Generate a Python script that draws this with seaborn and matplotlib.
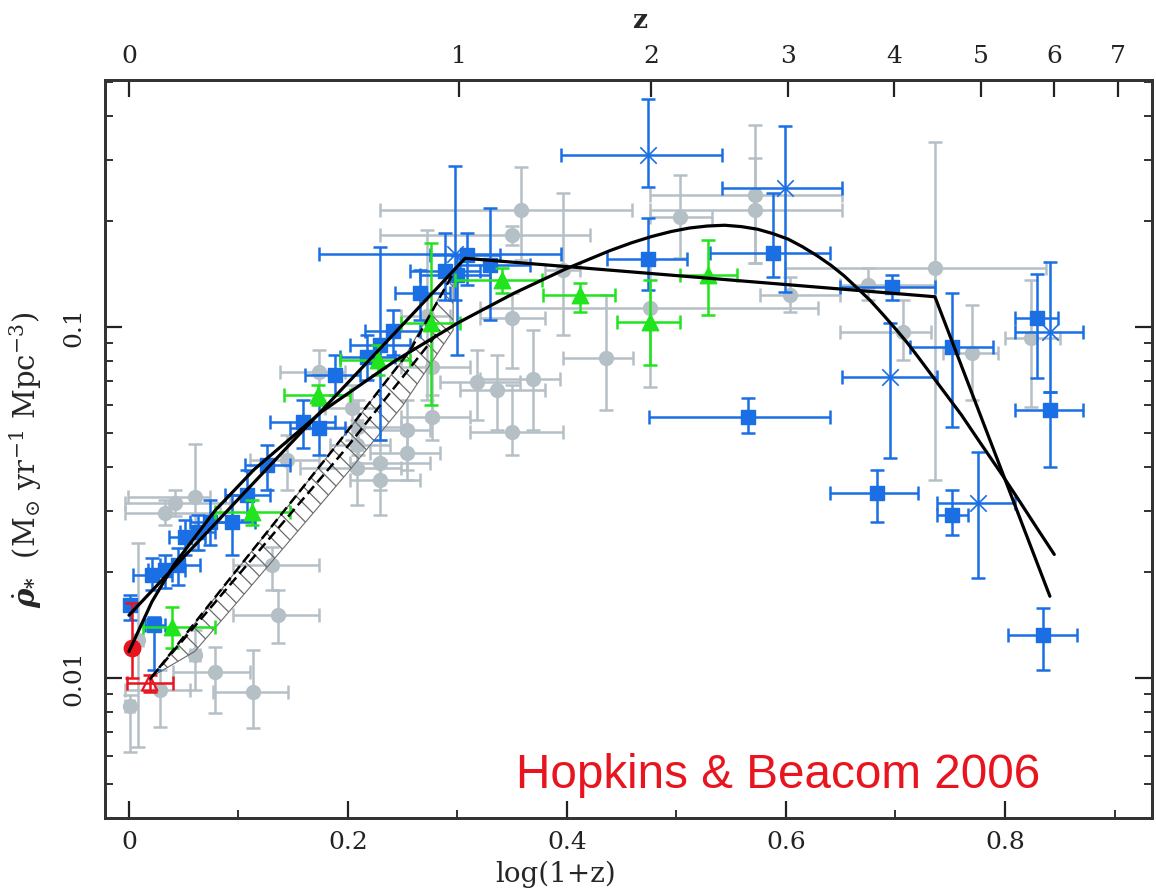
import numpy as np
import pandas as pd
import matplotlib
matplotlib.use("Agg")
import matplotlib.pyplot as plt
from matplotlib.ticker import (LogLocator, NullFormatter, FixedLocator,
                               MultipleLocator, FuncFormatter)
import seaborn as sns

sns.set_theme(style="white")
plt.rcParams['font.family'] = ['DejaVu Serif']
plt.rcParams['mathtext.fontset'] = 'dejavuserif'
plt.rcParams['hatch.linewidth'] = 0.9

# ---------------- data: x = log10(1+z), y = log10(rho_dot) ----------------
# grey compilation (circles)
gray_x    = [0.001, 0.008, 0.028, 0.060, 0.079, 0.113, 0.060, 0.042, 0.033, 0.131,
             0.136, 0.144, 0.174, 0.204, 0.209, 0.208, 0.208, 0.229, 0.229, 0.254,
             0.254, 0.277, 0.277, 0.318, 0.336, 0.272, 0.358, 0.350, 0.350, 0.369,
             0.350, 0.436, 0.476, 0.396, 0.503, 0.572, 0.572, 0.604, 0.675, 0.736,
             0.707, 0.770, 0.824]
gray_xlo  = [-0.004, 0.004, -0.004, 0.056, 0.040, 0.077, -0.001, -0.004, -0.004, 0.095,
             0.095, 0.111, 0.138, 0.179, 0.174, 0.184, 0.156, 0.202, 0.202, 0.229,
             0.220, 0.248, 0.248, 0.284, 0.302, 0.248, 0.229, 0.229, 0.321, 0.321,
             0.311, 0.396, 0.321, 0.380, 0.476, 0.476, 0.476, 0.576, 0.649, 0.599,
             0.649, 0.743, 0.800]
gray_xhi  = [0.005, 0.013, 0.056, 0.065, 0.111, 0.145, 0.074, 0.092, 0.083, 0.174,
             0.174, 0.174, 0.197, 0.229, 0.248, 0.238, 0.248, 0.275, 0.266, 0.275,
             0.284, 0.311, 0.311, 0.357, 0.380, 0.293, 0.459, 0.421, 0.380, 0.394,
             0.396, 0.460, 0.629, 0.412, 0.532, 0.651, 0.651, 0.649, 0.736, 0.837,
             0.732, 0.794, 0.850]
gray_ly   = [-2.080, -1.892, -2.034, -1.934, -1.983, -2.040, -1.484, -1.501, -1.530, -1.678,
             -1.821, -1.379, -1.128, -1.231, -1.285, -1.336, -1.402, -1.387, -1.436, -1.293,
             -1.359, -1.114, -1.256, -1.157, -1.179, -0.969, -0.667, -0.738, -0.974, -1.148,
             -1.299, -1.088, -0.946, -0.838, -0.687, -0.624, -0.667, -0.909, -0.880, -0.832,
             -1.014, -1.074, -1.031]
gray_lylo = [-2.211, -2.197, -2.140, -2.034, -2.100, -2.142, -1.635, -1.538, -1.564, -1.749,
             -1.900, -1.464, -1.208, -1.322, -1.365, -1.407, -1.507, -1.464, -1.536, -1.407,
             -1.436, -1.265, -1.322, -1.265, -1.293, -1.208, -0.809, -0.766, -1.117, -1.293,
             -1.365, -1.236, -1.171, -1.023, -0.803, -0.818, -0.818, -0.957, -0.923, -1.436,
             -1.094, -1.208, -1.228]
gray_lyhi = [-2.048, -1.615, -1.977, -1.863, -1.912, -1.920, -1.333, -1.464, -1.493, -1.627,
             -1.749, -1.308, -1.066, -1.165, -1.208, -1.265, -1.350, -1.322, -1.379, -1.208,
             -1.293, -1.009, -1.194, -1.066, -1.080, -0.724, -0.544, -0.712, -0.903, -1.009,
             -1.165, -0.909, -0.809, -0.618, -0.567, -0.425, -0.519, -0.858, -0.832, -0.473,
             -0.923, -0.937, -0.866]

# blue squares
blue_x    = [0.001, 0.021, 0.033, 0.045, 0.023, 0.051, 0.063, 0.074, 0.094, 0.108,
             0.126, 0.159, 0.174, 0.188, 0.217, 0.241, 0.229, 0.266, 0.289, 0.300,
             0.309, 0.330, 0.474, 0.588, 0.565, 0.697, 0.752, 0.683, 0.752, 0.829,
             0.841, 0.835]
blue_xlo  = [-0.002, 0.004, 0.017, 0.028, 0.015, 0.037, 0.047, 0.056, 0.074, 0.088,
             0.106, 0.129, 0.147, 0.161, 0.193, 0.216, 0.202, 0.243, 0.257, 0.266,
             0.275, 0.302, 0.437, 0.531, 0.475, 0.649, 0.713, 0.640, 0.738, 0.809,
             0.809, 0.803]
blue_xhi  = [0.006, 0.039, 0.051, 0.065, 0.033, 0.069, 0.079, 0.097, 0.115, 0.129,
             0.147, 0.188, 0.197, 0.211, 0.243, 0.266, 0.257, 0.293, 0.321, 0.330,
             0.339, 0.366, 0.510, 0.640, 0.640, 0.736, 0.789, 0.721, 0.766, 0.848,
             0.871, 0.866]
blue_ly   = [-1.792, -1.707, -1.692, -1.678, -1.849, -1.598, -1.584, -1.556, -1.556, -1.479,
             -1.393, -1.271, -1.288, -1.137, -1.085, -1.011, -1.051, -0.903, -0.840, -0.852,
             -0.795, -0.823, -0.806, -0.789, -1.256, -0.886, -1.057, -1.473, -1.536, -0.974,
             -1.236, -1.877]
blue_lylo = [-1.835, -1.749, -1.744, -1.735, -1.977, -1.650, -1.635, -1.621, -1.650, -1.550,
             -1.464, -1.345, -1.365, -1.194, -1.151, -1.080, -1.322, -0.980, -0.923, -1.080,
             -0.880, -0.980, -0.895, -0.858, -1.302, -0.923, -1.285, -1.556, -1.593, -1.145,
             -1.399, -1.977]
blue_lyhi = [-1.764, -1.658, -1.650, -1.630, -1.826, -1.550, -1.536, -1.493, -1.479, -1.407,
             -1.336, -1.208, -1.217, -1.080, -1.023, -0.952, -0.772, -0.838, -0.732, -0.795,
             -0.732, -0.661, -0.689, -0.618, -1.202, -0.852, -0.903, -1.407, -1.464, -0.849,
             -1.185, -1.801]

# blue crosses
cross_x    = [0.298, 0.474, 0.599, 0.695, 0.775, 0.841]
cross_xlo  = [0.174, 0.395, 0.542, 0.651, 0.738, 0.809]
cross_xhi  = [0.395, 0.542, 0.651, 0.738, 0.809, 0.871]
cross_ly   = [-0.792, -0.510, -0.604, -1.142, -1.501, -1.014]
cross_lylo = [-0.923, -0.600, -0.900, -1.373, -1.715, -1.185]
cross_lyhi = [-0.541, -0.350, -0.427, -0.989, -1.356, -0.815]

# green triangles
green_x    = [0.039, 0.112, 0.173, 0.227, 0.276, 0.341, 0.412, 0.476, 0.529]
green_xlo  = [0.013, 0.079, 0.142, 0.193, 0.248, 0.298, 0.378, 0.446, 0.503]
green_xhi  = [0.079, 0.147, 0.202, 0.257, 0.302, 0.377, 0.444, 0.503, 0.555]
green_ly   = [-1.855, -1.527, -1.194, -1.094, -0.989, -0.866, -0.909, -0.986, -0.852]
green_lylo = [-1.915, -1.564, -1.222, -1.137, -1.222, -0.903, -0.957, -1.108, -0.966]
green_lyhi = [-1.798, -1.493, -1.165, -1.051, -0.761, -0.832, -0.875, -0.866, -0.752]

# red local points
red_circ = dict(x=[0.003], xlo=[0.000], xhi=[0.006], ly=[-1.915], lylo=[-2.000], lyhi=[-1.786])
red_tri = dict(x=[0.019], xlo=[-0.002], xhi=[0.040], ly=[-2.014], lylo=[-2.040], lyhi=[-1.991])

# broken power-law fit
pl_x = [0.0, 0.307, 0.736, 0.841]
pl_y = [0.0151, 0.157, 0.122, 0.0171]

# smooth (Cole-form) fit
cole_x = [0.0, 0.021, 0.041, 0.079, 0.114, 0.176, 0.243, 0.301, 0.352, 0.398, 0.439,
          0.459, 0.477, 0.495, 0.512, 0.528, 0.544, 0.559, 0.574, 0.588, 0.602, 0.615,
          0.628, 0.641, 0.653, 0.665, 0.677, 0.688, 0.699, 0.710, 0.720, 0.740,
          0.760, 0.778, 0.796, 0.813, 0.829, 0.845]
cole_y = [0.0119, 0.0165, 0.0210, 0.0301, 0.0392, 0.0574, 0.0801, 0.103, 0.125, 0.146, 0.165,
          0.1738, 0.181, 0.1871, 0.1915, 0.194, 0.195, 0.1933, 0.190, 0.1846, 0.178, 0.1694,
          0.160, 0.150, 0.140, 0.1292, 0.119, 0.1091, 0.0997, 0.0908, 0.0827, 0.0682,
          0.0563, 0.0465, 0.0385, 0.0320, 0.0268, 0.0225]

# hatched band and dashed lines at low z
band_x  = [0.021, 0.06, 0.10, 0.15, 0.20, 0.25, 0.296]
band_lo = [0.0101, 0.0119, 0.0166, 0.0253, 0.0386, 0.0597, 0.098]
band_hi = [0.0101, 0.0143, 0.0206, 0.0322, 0.0507, 0.0805, 0.142]
dashA_x = [0.019, 0.10, 0.186, 0.257, 0.296]
dashA_y = [0.0099, 0.0206, 0.0446, 0.086, 0.142]
dashB_x = [0.021, 0.197, 0.284]
dashB_y = [0.0101, 0.0446, 0.098]

z_ticks = [0, 1, 2, 3, 4, 5, 6, 7]

GRAY = '#b5c0c6'
BLUE = '#1b6fe4'
GREEN = '#20e41c'
RED = '#e8141e'

fig = plt.figure(figsize=(11.56, 8.91), dpi=100)
ax = fig.add_axes([0.0908, 0.0819, 0.9057, 0.8283])
ax.set_yscale('log')


def draw(x, xlo, xhi, ly, lylo, lyhi, color, marker, size, z, lw=1.0, face=None):
    x = np.asarray(x, float)
    xlo = np.asarray(xlo, float)
    xhi = np.asarray(xhi, float)
    y = 10 ** np.asarray(ly, float)
    ylo = 10 ** np.asarray(lylo, float)
    yhi = 10 ** np.asarray(lyhi, float)
    ax.errorbar(x, y, xerr=[np.clip(x - xlo, 0, None), np.clip(xhi - x, 0, None)],
                yerr=[np.clip(y - ylo, 0, None), np.clip(yhi - y, 0, None)],
                fmt='none', ecolor=color, elinewidth=1.8, capsize=5, capthick=1.8,
                zorder=z)
    df = pd.DataFrame({'x': x, 'y': y})
    kw = dict(data=df, x='x', y='y', marker=marker, s=size, ax=ax, legend=False,
              zorder=z + 0.1, linewidth=lw)
    if face is not None:
        sns.scatterplot(**kw, facecolor=face, edgecolor=color)
    elif marker in ('x', '+'):
        sns.scatterplot(**kw, color=color)
    else:
        sns.scatterplot(**kw, color=color, edgecolor=color)


draw(gray_x, gray_xlo, gray_xhi, gray_ly, gray_lylo, gray_lyhi, GRAY, 'o', 100, 2)

ax.fill_between(band_x, band_lo, band_hi, facecolor='none', edgecolor='#6a6a6a',
                hatch='\\\\', linewidth=0.8, zorder=3)

draw(blue_x, blue_xlo, blue_xhi, blue_ly, blue_lylo, blue_lyhi, BLUE, 's', 90, 4)
draw(cross_x, cross_xlo, cross_xhi, cross_ly, cross_lylo, cross_lyhi, BLUE, 'x', 140, 4, lw=1.2)
draw(green_x, green_xlo, green_xhi, green_ly, green_lylo, green_lyhi, GREEN, '^', 140, 5)
draw(red_circ['x'], red_circ['xlo'], red_circ['xhi'], red_circ['ly'], red_circ['lylo'],
     red_circ['lyhi'], RED, 'o', 140, 6)
draw(red_tri['x'], red_tri['xlo'], red_tri['xhi'], red_tri['ly'], red_tri['lylo'],
     red_tri['lyhi'], RED, '^', 120, 6, lw=1.6, face='none')

sns.lineplot(x=pl_x, y=pl_y, sort=False, estimator=None, color='black', lw=2.3,
             ax=ax, zorder=8)
sns.lineplot(x=cole_x, y=cole_y, sort=False, estimator=None, color='black', lw=2.3,
             ax=ax, zorder=8)
ax.plot(dashA_x, dashA_y, color='black', lw=1.8, ls=(0, (4, 2)), zorder=7)
ax.plot(dashB_x, dashB_y, color='black', lw=1.8, ls=(0, (4, 2)), zorder=7)

ax.set_xlim(-0.0219, 0.9342)
ax.set_ylim(0.003992, 0.5056)

# ticks
ax.xaxis.set_major_locator(MultipleLocator(0.2))
ax.xaxis.set_minor_locator(MultipleLocator(0.1))
ax.xaxis.set_major_formatter(FuncFormatter(lambda v, p: '0' if abs(v) < 1e-9 else f'{v:.1f}'))
ax.yaxis.set_major_locator(FixedLocator([0.01, 0.1]))
ax.yaxis.set_major_formatter(FuncFormatter(lambda v, p: '0.01' if v < 0.05 else '0.1'))
ax.yaxis.set_minor_locator(LogLocator(base=10, subs=range(2, 10)))
ax.yaxis.set_minor_formatter(NullFormatter())
ax.tick_params(which='both', direction='in', top=False, right=True, left=True, bottom=True,
               colors='#222222')
ax.tick_params(which='major', length=12, width=1.6, labelsize=18)
ax.tick_params(which='minor', length=6, width=1.3)
ax.tick_params(axis='x', pad=9)
ax.tick_params(axis='y', pad=14)
for lab in ax.get_yticklabels():
    lab.set_rotation(90)
    lab.set_va('center')
for s in ax.spines.values():
    s.set_linewidth(2.0)
    s.set_color('#333333')

ax.set_xlabel('log(1+z)', fontsize=20)
ax.xaxis.set_label_coords(0.43, -0.058)
ax.set_ylabel(r'$\dot{\boldsymbol{\rho}}_{\mathbf{*}}$  (M$_{\odot}$ yr$^{-1}$ Mpc$^{-3}$)',
              fontsize=21)
ax.yaxis.set_label_coords(-0.058, 0.485)

ax2 = ax.twiny()
ax2.set_xlim(ax.get_xlim())
ax2.set_xticks(np.log10(1 + np.array(z_ticks, float)))
ax2.set_xticklabels([str(z) for z in z_ticks])
ax2.tick_params(axis='x', direction='in', length=12, width=1.6, labelsize=18, pad=9,
                top=True, bottom=False, colors='#222222')
for s in ax2.spines.values():
    s.set_linewidth(2.0)
    s.set_color('#333333')
ax2.set_xlabel('z', fontsize=19, fontweight='bold')
ax2.xaxis.set_label_coords(0.511, 1.070)

ax.text(0.393, 0.058, 'Hopkins & Beacom 2006', transform=ax.transAxes,
        fontsize=34.3, color=RED, family=['Liberation Sans', 'DejaVu Sans'],
        ha='left', va='center', zorder=10)

fig.savefig('out.png', dpi=100)
